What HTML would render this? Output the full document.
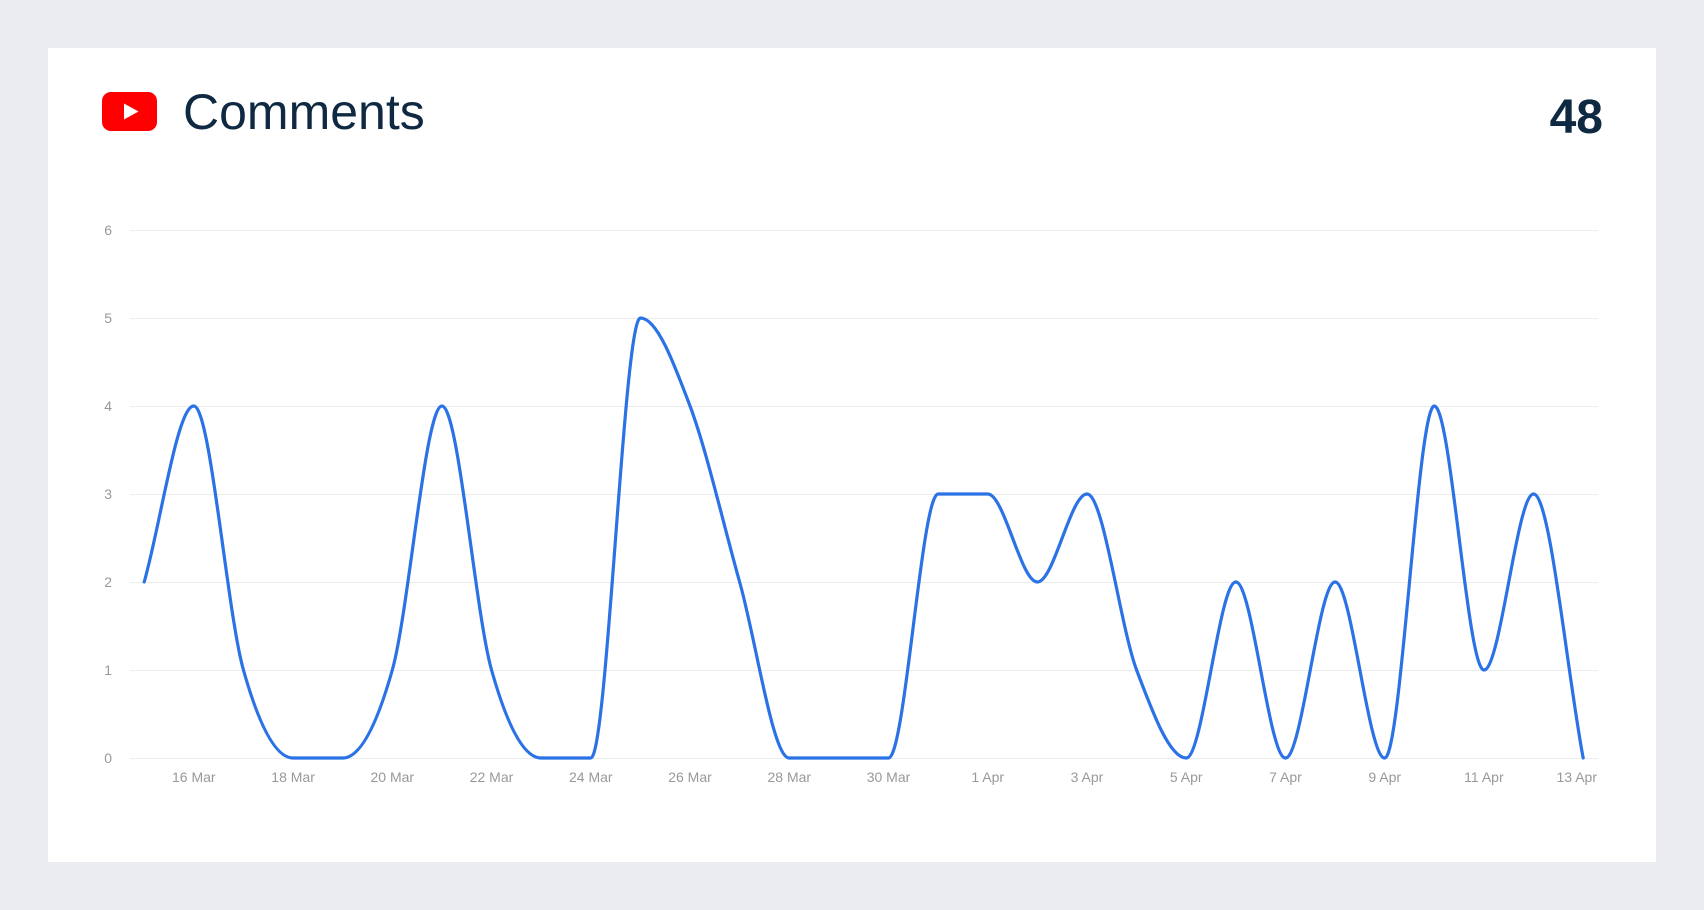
<!DOCTYPE html>
<html>
<head>
<meta charset="utf-8">
<style>
  html, body { margin: 0; padding: 0; }
  body { width: 1704px; height: 910px; background: #ebecf0; overflow: hidden; }
  svg { display: block; }
</style>
</head>
<body>
<svg width="1704" height="910" viewBox="0 0 1704 910" xmlns="http://www.w3.org/2000/svg">
  <rect x="0" y="0" width="1704" height="910" fill="#ebecf0"/>
  <rect x="48" y="48" width="1608" height="814" fill="#ffffff"/>

  <!-- YouTube icon -->
  <rect x="102" y="92" width="55" height="39" rx="9" ry="9" fill="#ff0000"/>
  <polygon points="124,103.5 124,119.5 138.5,111.5" fill="#ffffff"/>

  <text x="183" y="129" font-family="Liberation Sans, Arial, sans-serif" font-size="50" fill="#0f2942">Comments</text>
  <text x="1603" y="133" text-anchor="end" font-family="Liberation Sans, Arial, sans-serif" font-size="48" font-weight="bold" fill="#0f2942">48</text>

  <!-- gridlines -->
  <g stroke="#ececec" stroke-width="1">
    <line x1="130" y1="230.5" x2="1598" y2="230.5"/>
    <line x1="130" y1="318.5" x2="1598" y2="318.5"/>
    <line x1="130" y1="406.5" x2="1598" y2="406.5"/>
    <line x1="130" y1="494.5" x2="1598" y2="494.5"/>
    <line x1="130" y1="582.5" x2="1598" y2="582.5"/>
    <line x1="130" y1="670.5" x2="1598" y2="670.5"/>
    <line x1="130" y1="758.5" x2="1598" y2="758.5"/>
  </g>

  <!-- y labels -->
  <g font-family="Liberation Sans, Arial, sans-serif" font-size="14" fill="#999999" text-anchor="end">
    <text x="112" y="235">6</text>
    <text x="112" y="323">5</text>
    <text x="112" y="411">4</text>
    <text x="112" y="499">3</text>
    <text x="112" y="587">2</text>
    <text x="112" y="675">1</text>
    <text x="112" y="763">0</text>
  </g>

  <!-- x labels -->
  <g font-family="Liberation Sans, Arial, sans-serif" font-size="14" fill="#999999" text-anchor="middle">
    <text x="193.8" y="782">16 Mar</text>
    <text x="293.1" y="782">18 Mar</text>
    <text x="392.3" y="782">20 Mar</text>
    <text x="491.5" y="782">22 Mar</text>
    <text x="590.8" y="782">24 Mar</text>
    <text x="690.0" y="782">26 Mar</text>
    <text x="789.3" y="782">28 Mar</text>
    <text x="888.5" y="782">30 Mar</text>
    <text x="987.7" y="782">1 Apr</text>
    <text x="1087.0" y="782">3 Apr</text>
    <text x="1186.2" y="782">5 Apr</text>
    <text x="1285.5" y="782">7 Apr</text>
    <text x="1384.7" y="782">9 Apr</text>
    <text x="1483.9" y="782">11 Apr</text>
    <text x="1597" y="782" text-anchor="end">13 Apr</text>
  </g>

  <!-- series -->
  <path fill="none" stroke="#2a72e5" stroke-width="3.2" stroke-linejoin="round" stroke-linecap="round"
    d="M144.2,582
       C160.74,523.33 177.28,406 193.82,406
       C210.36,406 226.90,611.33 243.44,670
       C259.98,728.67 276.52,758 293.06,758
       L342.68,758
       C359.22,758 375.76,728.67 392.30,670
       C408.84,611.33 425.38,406 441.92,406
       C458.46,406 475.00,611.33 491.54,670
       C508.08,728.67 524.62,758 541.16,758
       L590.78,758
       C607.32,758 623.86,318 640.40,318
       C656.94,318 673.48,362 690.02,406
       C706.56,450 723.10,523.33 739.64,582
       C756.18,640.67 772.72,758 789.26,758
       L888.50,758
       C905.04,758 921.58,494 938.12,494
       L987.74,494
       C1004.28,494 1020.82,582 1037.36,582
       C1053.90,582 1070.44,494 1086.98,494
       C1103.52,494 1120.06,626 1136.60,670
       C1153.14,714 1169.68,758 1186.22,758
       C1202.76,758 1219.30,582 1235.84,582
       C1252.38,582 1268.92,758 1285.46,758
       C1302.00,758 1318.54,582 1335.08,582
       C1351.62,582 1368.16,758 1384.70,758
       C1401.24,758 1417.78,406 1434.32,406
       C1450.86,406 1467.40,670 1483.94,670
       C1500.48,670 1517.02,494 1533.56,494
       C1550.10,494 1566.64,670 1583.18,758"/>
</svg>
</body>
</html>
